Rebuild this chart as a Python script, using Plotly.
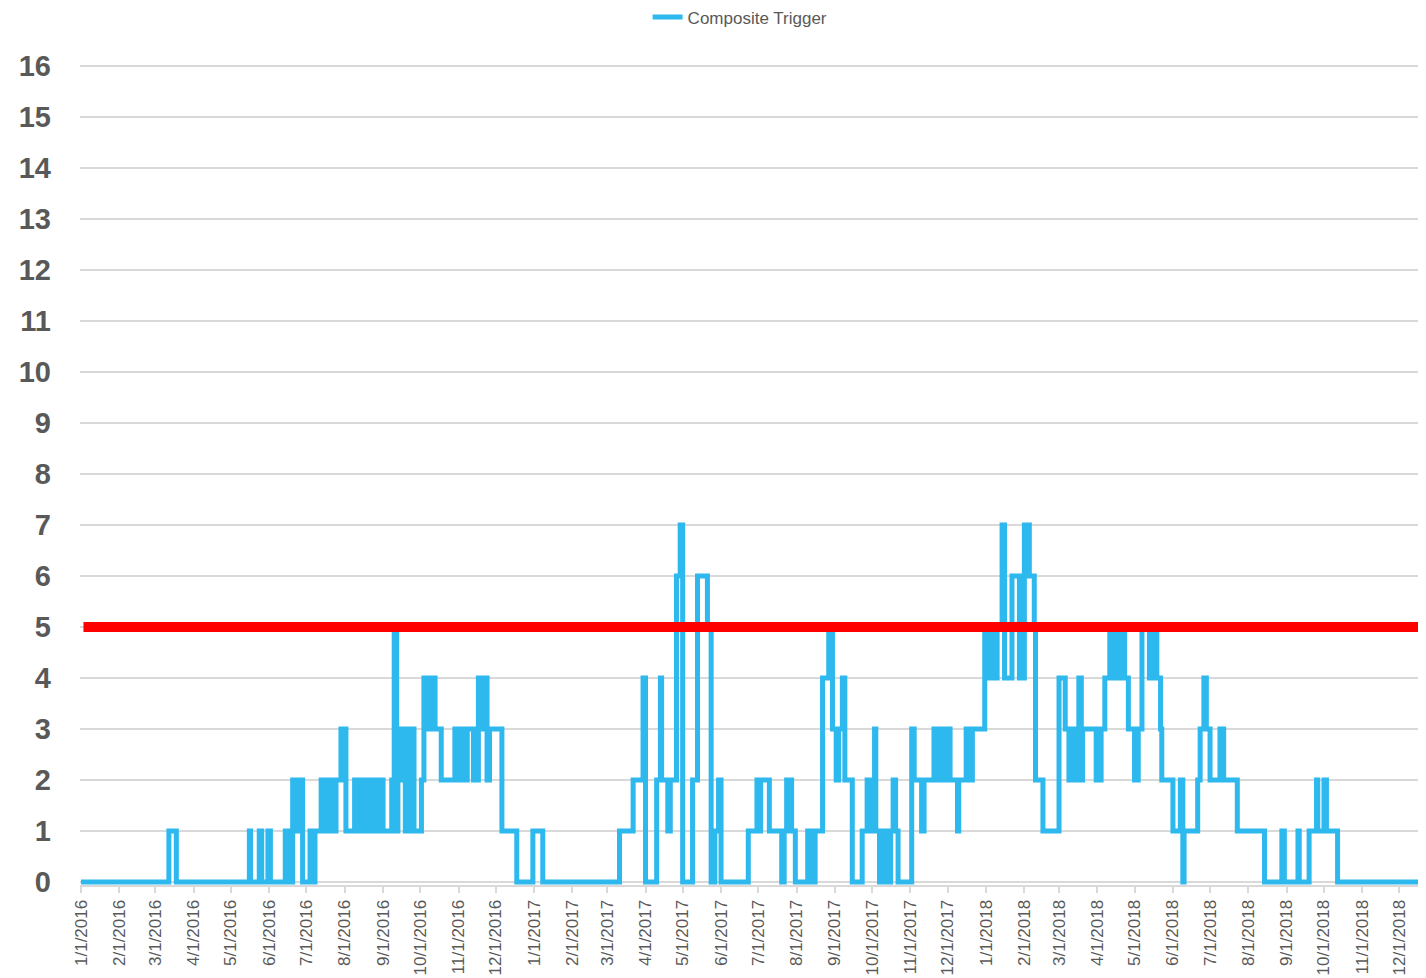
import plotly.graph_objects as go

# Composite Trigger: dates at which the level changes, and the level from that date on
change_dates = [
    "2016-01-01", "2016-03-12", "2016-03-18",
    "2016-05-16", "2016-05-17", "2016-05-24", "2016-05-26", "2016-05-31", "2016-06-02",
    "2016-06-14", "2016-06-17", "2016-06-20", "2016-06-22", "2016-06-26", "2016-06-28",
    "2016-07-04", "2016-07-06", "2016-07-08", "2016-07-13",
    "2016-07-16", "2016-07-17", "2016-07-20", "2016-07-21", "2016-07-24", "2016-07-25",
    "2016-07-29", "2016-08-02", "2016-08-09", "2016-08-10", "2016-08-14",
    "2016-08-17", "2016-08-18", "2016-08-22", "2016-08-23", "2016-08-27", "2016-08-28",
    "2016-09-01", "2016-09-08", "2016-09-10", "2016-09-12", "2016-09-13", "2016-09-16",
    "2016-09-19", "2016-09-23", "2016-09-26", "2016-10-02",
    "2016-10-04", "2016-10-06", "2016-10-09", "2016-10-13",
    "2016-10-18", "2016-10-29", "2016-10-31", "2016-11-01", "2016-11-04", "2016-11-08",
    "2016-11-13", "2016-11-17", "2016-11-19", "2016-11-22", "2016-11-24", "2016-11-26",
    "2016-12-06", "2016-12-18", "2016-12-31", "2017-01-08", "2017-03-11", "2017-03-22",
    "2017-03-30", "2017-04-01", "2017-04-10", "2017-04-13", "2017-04-14", "2017-04-19",
    "2017-04-21", "2017-04-26", "2017-04-29", "2017-05-01", "2017-05-09", "2017-05-13",
    "2017-05-21", "2017-05-24", "2017-05-27", "2017-05-30", "2017-06-01", "2017-06-23",
    "2017-06-30", "2017-07-02", "2017-07-03", "2017-07-10", "2017-07-20", "2017-07-22",
    "2017-07-24", "2017-07-28", "2017-07-31", "2017-08-10", "2017-08-13", "2017-08-16",
    "2017-08-22", "2017-08-27", "2017-08-30", "2017-09-02", "2017-09-04", "2017-09-07",
    "2017-09-09", "2017-09-15", "2017-09-23", "2017-09-27", "2017-09-30", "2017-10-03",
    "2017-10-04", "2017-10-07", "2017-10-10", "2017-10-13", "2017-10-16", "2017-10-18",
    "2017-10-20", "2017-10-22", "2017-11-02", "2017-11-04", "2017-11-10", "2017-11-12",
    "2017-11-20", "2017-11-22", "2017-11-24", "2017-11-26", "2017-11-27", "2017-12-01",
    "2017-12-02", "2017-12-03", "2017-12-09", "2017-12-10", "2017-12-16", "2017-12-18",
    "2017-12-21", "2017-12-31", "2018-01-03", "2018-01-05", "2018-01-08", "2018-01-10",
    "2018-01-14", "2018-01-16", "2018-01-22", "2018-01-28", "2018-02-01", "2018-02-05",
    "2018-02-09", "2018-02-10", "2018-02-16", "2018-03-01", "2018-03-06", "2018-03-09",
    "2018-03-11", "2018-03-14", "2018-03-15", "2018-03-17", "2018-03-19", "2018-03-20",
    "2018-03-31", "2018-04-04", "2018-04-07", "2018-04-11", "2018-04-14", "2018-04-18",
    "2018-04-19", "2018-04-21", "2018-04-23", "2018-04-26", "2018-05-01", "2018-05-04",
    "2018-05-07", "2018-05-13", "2018-05-15", "2018-05-19", "2018-05-22", "2018-05-23",
    "2018-06-01", "2018-06-07", "2018-06-09", "2018-06-10", "2018-06-21", "2018-06-23",
    "2018-06-26", "2018-06-28", "2018-07-01", "2018-07-09", "2018-07-12", "2018-07-23",
    "2018-08-14", "2018-08-28", "2018-08-30", "2018-09-10", "2018-09-11", "2018-09-19",
    "2018-09-25", "2018-09-26", "2018-10-01", "2018-10-03", "2018-10-12", "2018-12-31",
]
trigger_levels = [
    0, 1, 0,
    1, 0, 1, 0, 1, 0,
    1, 0, 2, 1, 2, 0,
    1, 0, 1, 2,
    1, 2, 1, 2, 1, 2,
    3, 1, 2, 1, 2,
    1, 2, 1, 2, 1, 2,
    1, 2, 5, 1, 2, 3,
    1, 3, 1, 2,
    4, 3, 4, 3,
    2, 3, 2, 3, 2, 3,
    2, 4, 3, 4, 2, 3,
    1, 0, 1, 0, 1, 2,
    4, 0, 2, 4, 2, 1,
    2, 6, 7, 0, 2, 6,
    5, 0, 1, 2, 0, 1,
    2, 1, 2, 1, 0, 1,
    2, 1, 0, 1, 0, 1,
    4, 5, 3, 2, 3, 4,
    2, 0, 1, 2, 1, 3,
    1, 0, 1, 0, 1, 2,
    1, 0, 3, 2, 1, 2,
    3, 2, 3, 2, 3, 2,
    3, 2, 1, 2, 3, 2,
    3, 5, 4, 5, 4, 5,
    7, 4, 6, 4, 7, 6,
    5, 2, 1, 4, 3, 2,
    3, 2, 3, 4, 2, 3,
    2, 3, 4, 5, 4, 5,
    4, 5, 4, 3, 2, 3,
    5, 4, 5, 4, 3, 2,
    1, 2, 0, 1, 2, 3,
    4, 3, 2, 3, 2, 1,
    0, 1, 0, 1, 0, 1,
    2, 1, 2, 1, 0, 0,
]

threshold_dates = ["2016-01-03", "2018-12-31"]
threshold_values = [5, 5]

y_ticks = list(range(0, 17))

fig = go.Figure()
fig.add_trace(go.Scatter(
    x=change_dates, y=trigger_levels, mode="lines", name="Composite Trigger",
    line=dict(color="#2DB8EE", width=5, shape="hv"),
))
fig.add_trace(go.Scatter(
    x=threshold_dates, y=threshold_values, mode="lines", name="Threshold",
    line=dict(color="#FF0000", width=10), showlegend=False, hoverinfo="skip",
))

# page body has an 8px margin, so the figure is sized to fit the window from there
fig.update_layout(
    width=1418, height=970,
    margin=dict(l=72, r=0, t=57, b=93, autoexpand=False),
    paper_bgcolor="white", plot_bgcolor="white",
    showlegend=True,
    legend=dict(orientation="h", x=0.4217, xanchor="left", y=1.058, yanchor="middle",
                font=dict(family="Liberation Sans", size=17, color="#595959"),
                bgcolor="rgba(0,0,0,0)"),
    xaxis=dict(
        type="date", automargin=False,
        range=["2015-12-31 05:00", "2018-12-22 10:00"],
        dtick="M1", tick0="2016-01-01",
        tickformat="%-m/%-d/%Y", tickangle=-90,
        tickfont=dict(family="Liberation Sans", size=17, color="#595959"),
        showgrid=False, zeroline=False,
        showline=True, linecolor="#D9D9D9", linewidth=2,
        ticks="outside", ticklen=6, tickcolor="#D9D9D9", tickwidth=1.5,
    ),
    yaxis=dict(
        range=[-0.06, 16.02], automargin=False,
        tickvals=y_ticks,
        tickfont=dict(family="Liberation Sans", size=29, color="#595959", weight="bold"),
        showgrid=True, gridcolor="#D9D9D9", gridwidth=2,
        zeroline=False, showline=False, ticks="",
        ticklabelstandoff=28,
    ),
)

fig.write_html("out.html")
